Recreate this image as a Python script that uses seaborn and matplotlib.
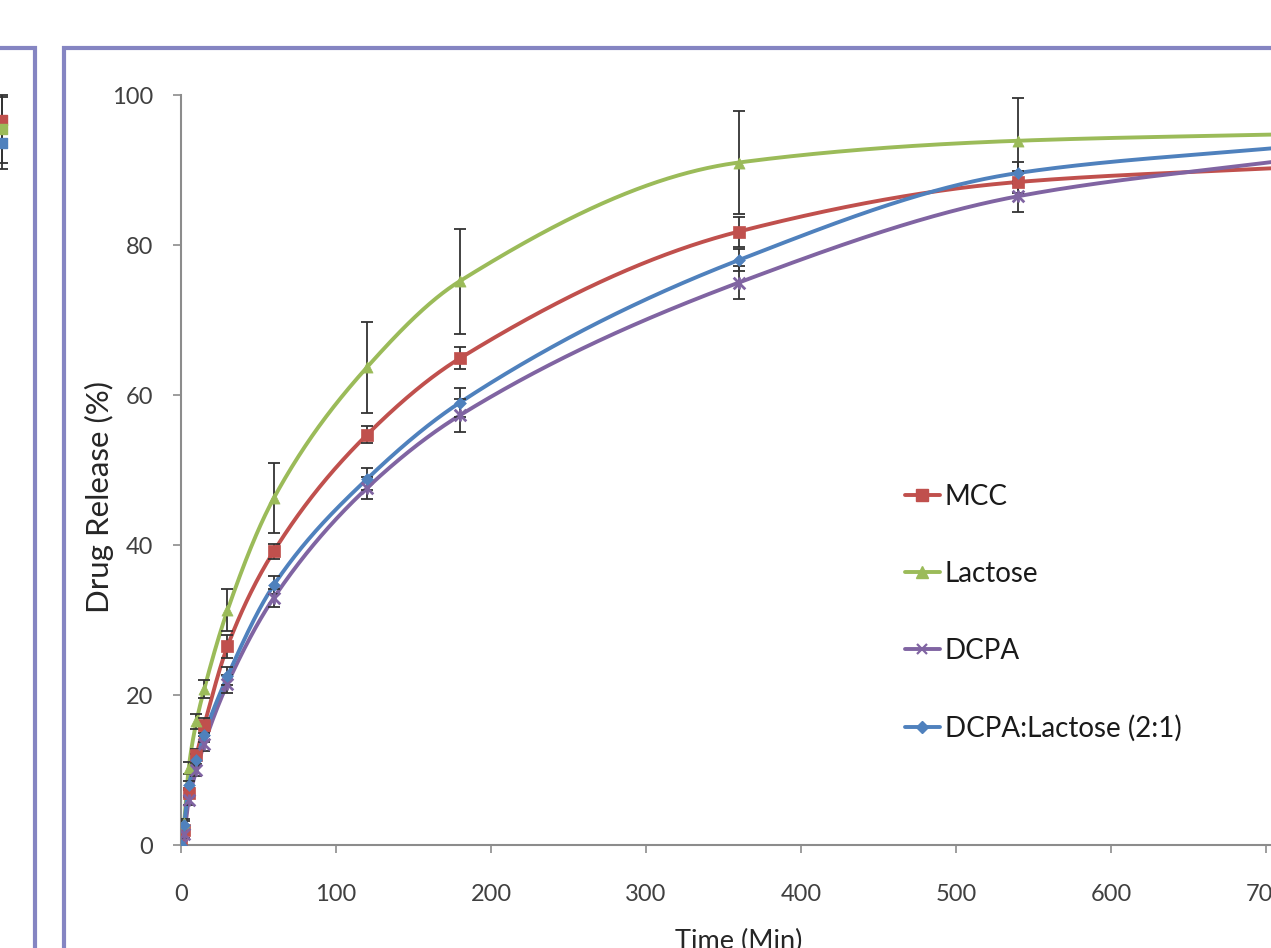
import numpy as np
import pandas as pd
import matplotlib
matplotlib.use("Agg")
import matplotlib.pyplot as plt
from matplotlib.patches import Rectangle
from matplotlib.lines import Line2D
import seaborn as sns

# ---------------- data ----------------
time_min = [0, 2, 5, 10, 15, 30, 60, 120, 180, 360, 540, 720]
mcc = [0, 2.0, 7.0, 12.0, 16.0, 26.5, 39.2, 54.7, 64.9, 81.8, 88.4, 90.4]
lactose = [0, 3.0, 10.3, 16.5, 20.8, 31.3, 46.3, 63.7, 75.2, 91.0, 93.9, 94.8]
dcpa = [0, 1.5, 6.0, 10.0, 13.5, 21.5, 33.0, 47.6, 57.3, 75.0, 86.5, 91.5]
dcpa_lac = [0, 2.7, 8.0, 11.3, 14.7, 22.5, 34.7, 48.8, 59.0, 78.0, 89.6, 93.2]

mcc_err = [0, 0.5, 0.6, 0.8, 1.0, 1.5, 1.0, 1.1, 1.5, 2.0, 1.5, 1.5]
lactose_err = [0, 0.5, 0.8, 1.0, 1.2, 2.8, 4.7, 6.1, 7.0, 6.9, 5.7, 5.0]
dcpa_err = [0, 0.5, 0.6, 0.8, 1.0, 1.2, 1.2, 1.5, 2.2, 2.2, 2.1, 2.0]
dcpa_lac_err = [0, 0.5, 0.6, 0.8, 1.0, 1.2, 1.2, 1.5, 1.9, 1.5, 1.5, 1.5]

series_names = ["MCC", "Lactose", "DCPA", "DCPA:Lactose (2:1)"]
series_vals = [mcc, lactose, dcpa, dcpa_lac]
series_errs = [mcc_err, lactose_err, dcpa_err, dcpa_lac_err]
colors = ["#C0504D", "#9BBB59", "#8064A2", "#4F81BD"]
markers = ["s", "^", "x", "D"]
msizes = [8, 8, 8, 6]

x_ticks = [0, 100, 200, 300, 400, 500, 600, 700]
y_ticks = [0, 20, 40, 60, 80, 100]

# left-panel remnant (last points of the neighbouring chart)
left_t = [720, 720, 720]
left_vals = [96.7, 95.5, 93.6]
left_errs = [3.0, 4.5, 3.5]
left_colors = ["#C0504D", "#9BBB59", "#4F81BD"]


def pchip(x, y, xs):
    """Monotone cubic Hermite curve through the data (Excel-like smoothed line)."""
    x = np.asarray(x, float)
    y = np.asarray(y, float)
    h = np.diff(x)
    d = np.diff(y) / h
    m = np.zeros_like(y)
    for k in range(1, len(x) - 1):
        if d[k - 1] * d[k] > 0:
            w1 = 2 * h[k] + h[k - 1]
            w2 = h[k] + 2 * h[k - 1]
            m[k] = (w1 + w2) / (w1 / d[k - 1] + w2 / d[k])
    m[0] = d[0]
    m[-1] = d[-1]
    idx = np.clip(np.searchsorted(x, xs) - 1, 0, len(x) - 2)
    t = (xs - x[idx]) / h[idx]
    h00 = 2 * t**3 - 3 * t**2 + 1
    h10 = t**3 - 2 * t**2 + t
    h01 = -2 * t**3 + 3 * t**2
    h11 = t**3 - t**2
    return (h00 * y[idx] + h10 * h[idx] * m[idx] + h01 * y[idx + 1]
            + h11 * h[idx] * m[idx + 1])


sns.set_theme(style="white")
plt.rcParams["font.family"] = ["Lato", "DejaVu Sans"]

W, H = 1271, 948
fig = plt.figure(figsize=(W / 100, H / 100), dpi=100)
fig.patch.set_facecolor("white")

# panel borders
border_col = "#8585C2"
fig.add_artist(Rectangle((64 / W, -0.1), 2.0, (948 - 48) / H + 0.1,
                         transform=fig.transFigure, fill=False,
                         edgecolor=border_col, linewidth=3.0, zorder=0))
fig.add_artist(Rectangle((-1.0, -0.1), 1.0 + 35 / W, (948 - 48) / H + 0.1,
                         transform=fig.transFigure, fill=False,
                         edgecolor=border_col, linewidth=3.0, zorder=0))

# main axes (extends past the right edge, as in the cropped reference)
XMAX = 720
x0, x1 = 181, 181 + 1.55 * XMAX
y0, y1 = 845, 95
ax = fig.add_axes([x0 / W, (H - y0) / H, (x1 - x0) / W, (y0 - y1) / H])
ax.set_facecolor("none")

fine_t = np.linspace(0, 720, 1500)
for name, vals, errs, c, mk, ms in zip(series_names, series_vals, series_errs,
                                       colors, markers, msizes):
    curve = pd.DataFrame({"t": fine_t, "v": pchip(time_min, vals, fine_t)})
    sns.lineplot(data=curve, x="t", y="v", color=c, linewidth=2.8, ax=ax,
                 zorder=3, legend=False)
    ax.errorbar(time_min, vals, yerr=errs, fmt="none", ecolor="#333333",
                elinewidth=1.3, capsize=4, capthick=1.3, zorder=4)
    pts = pd.DataFrame({"t": time_min, "v": vals})
    if mk == "x":
        sns.scatterplot(data=pts, x="t", y="v", marker="x", s=70, color=c,
                        linewidth=2, ax=ax, zorder=5, legend=False)
        sns.scatterplot(data=pts, x="t", y="v", marker="|", s=70, color=c,
                        linewidth=2, ax=ax, zorder=5, legend=False)
    else:
        sns.scatterplot(data=pts, x="t", y="v", marker=mk, s=ms**2, color=c,
                        edgecolor=c, linewidth=0.5, ax=ax, zorder=5,
                        legend=False)

ax.set_xlim(0, XMAX)
ax.set_ylim(0, 100)
ax.set_xticks(x_ticks)
ax.set_yticks(y_ticks)
ax.set_xticklabels([str(v) for v in x_ticks])
ax.set_yticklabels([str(v) for v in y_ticks])
for s in ["top", "right"]:
    ax.spines[s].set_visible(False)
for s in ["left", "bottom"]:
    ax.spines[s].set_color("#8C8C8C")
    ax.spines[s].set_linewidth(1.5)
ax.tick_params(axis="both", which="major", direction="out", length=6,
               width=1.2, color="#8C8C8C", labelsize=17, labelcolor="#404040",
               left=True, bottom=True)
ax.tick_params(axis="x", pad=22)
ax.tick_params(axis="y", pad=14)
ax.set_xlabel("Time (Min)", fontsize=19.5, color="#262626", labelpad=17)
ax.set_ylabel("Drug Release (%)", fontsize=22.5, color="#262626")
ax.yaxis.set_label_coords((114 - x0) / (x1 - x0), (y0 - 497) / (y0 - y1))
ax.grid(False)

# legend
handles = []
for name, c, mk, ms in zip(series_names, colors, markers, msizes):
    if mk == "x":
        handles.append(Line2D([], [], color=c, linewidth=2.8, marker="x",
                              markersize=7, markeredgewidth=1.6, label=name))
    else:
        handles.append(Line2D([], [], color=c, linewidth=2.8, marker=mk,
                              markersize=ms, markeredgecolor=c, label=name))
ax.legend(handles=handles, loc="upper left",
          bbox_to_anchor=(905 / W, (H - 484) / H),
          bbox_transform=fig.transFigure, frameon=False, fontsize=20,
          labelspacing=1.83, handlelength=1.25, handletextpad=0.18,
          borderpad=0, borderaxespad=0, labelcolor="#1a1a1a")

# remnant of the neighbouring (left) panel
axl = fig.add_axes([-0.5, (H - y0) / H, 0.5 + 2 / W, (y0 - y1) / H])
axl.set_facecolor("none")
axl.axis("off")
axl.set_xlim(0, 720)
axl.set_ylim(0, 100)
for t, v, e, c in zip(left_t, left_vals, left_errs, left_colors):
    axl.errorbar([t], [v], yerr=[e], fmt="none", ecolor="#333333",
                 elinewidth=1.3, capsize=4, capthick=1.3, clip_on=False)
    axl.scatter([t], [v], marker="s", s=60, color=c, clip_on=False, zorder=5)

fig.savefig("out.png", dpi=100)
